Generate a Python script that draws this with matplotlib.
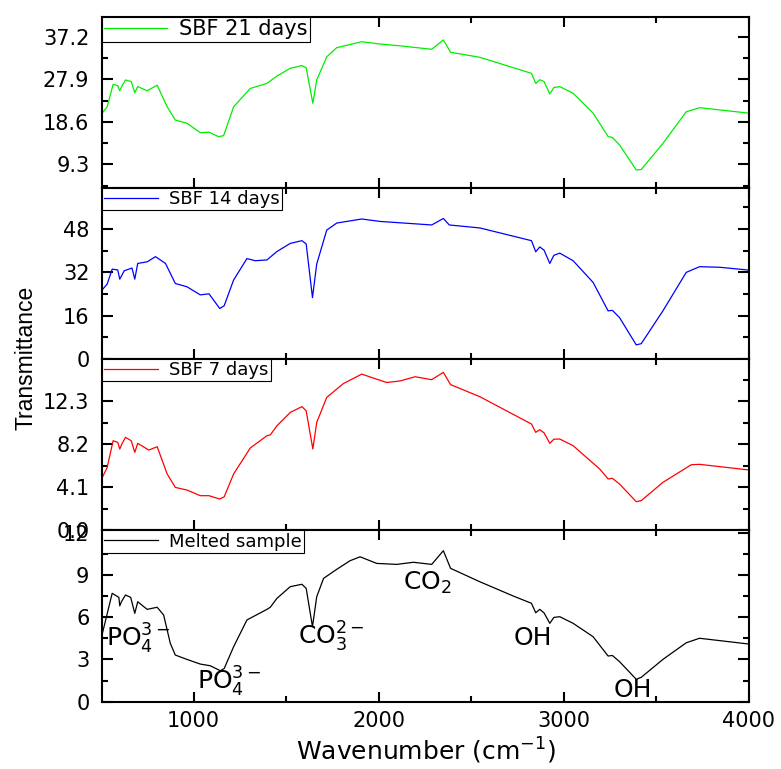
import numpy as np
import matplotlib as mpl
mpl.use('Agg')
import matplotlib.pyplot as plt
from matplotlib.ticker import MultipleLocator, FormatStrFormatter

mpl.rcParams['font.family'] = ['DejaVu Sans']
mpl.rcParams['xtick.labelsize'] = 15
mpl.rcParams['ytick.labelsize'] = 15
mpl.rcParams['axes.linewidth'] = 1.5
mpl.rcParams['lines.linewidth'] = 0.9

#==============================================================================
# FTIR spectra (wavenumber in cm-1, transmittance)
wn_21 = [505, 533, 565, 590, 601, 614, 632, 663, 682, 698, 749, 803, 857, 901,
         964, 1036, 1083, 1135, 1162, 1216, 1306, 1396, 1450, 1522, 1585, 1608,
         1644, 1665, 1719, 1773, 1908, 2007, 2115, 2286, 2349, 2388, 2546, 2825,
         2848, 2870, 2893, 2924, 2946, 2978, 3050, 3158, 3239, 3262, 3301, 3391,
         3418, 3535, 3661, 3733, 4000]
t_21 = [20.47, 21.9, 26.8, 26.5, 25.4, 26.5, 27.75, 27.4, 24.97, 26.3, 25.4,
        26.6, 21.9, 19.0, 18.3, 16.24, 16.35, 15.37, 15.6, 21.9, 25.9, 27.0,
        28.6, 30.3, 30.9, 30.4, 22.66, 27.75, 32.8, 34.8, 36.1, 35.6, 35.2,
        34.45, 36.5, 33.8, 32.7, 29.2, 27.0, 27.8, 27.4, 24.7, 26.1, 26.3,
        24.85, 20.5, 15.4, 15.2, 13.56, 8.1, 8.2, 13.9, 20.8, 21.7, 20.5]

wn_14 = [505, 533, 560, 590, 601, 625, 667, 682, 698, 749, 794, 848, 901, 964,
         1036, 1083, 1141, 1165, 1216, 1288, 1333, 1396, 1450, 1522, 1585, 1608,
         1642, 1665, 1719, 1773, 1908, 2007, 2115, 2286, 2349, 2381, 2546, 2825,
         2848, 2870, 2893, 2924, 2946, 2978, 3050, 3158, 3239, 3262, 3301, 3391,
         3418, 3535, 3661, 3733, 3840, 4000]
t_14 = [25.46, 27.7, 33.2, 32.9, 29.5, 32.6, 33.6, 29.5, 35.3, 35.9, 37.8, 35.3,
        27.9, 26.7, 23.7, 24.1, 18.67, 19.7, 29.2, 37.1, 36.3, 36.6, 39.7, 42.7,
        43.7, 42.5, 22.7, 35.1, 47.6, 50.2, 51.7, 50.8, 50.3, 49.5, 51.9, 49.5,
        48.4, 43.7, 39.6, 41.4, 40.2, 35.3, 38.3, 39.1, 36.3, 28.3, 17.8, 18.0,
        15.3, 5.25, 5.7, 17.8, 32.0, 34.1, 33.9, 32.85]

wn_7 = [505, 533, 565, 590, 601, 614, 632, 663, 682, 698, 758, 803, 857, 901,
        964, 1036, 1083, 1141, 1165, 1216, 1306, 1396, 1414, 1450, 1522, 1585,
        1608, 1644, 1665, 1719, 1809, 1908, 2043, 2115, 2196, 2286, 2349, 2388,
        2546, 2825, 2848, 2870, 2893, 2924, 2946, 2978, 3050, 3122, 3194, 3239,
        3262, 3301, 3391, 3418, 3535, 3688, 3733, 4000]
t_7 = [4.99, 6.0, 8.55, 8.4, 7.76, 8.3, 8.87, 8.55, 7.44, 8.3, 7.66, 7.98, 5.38,
       4.1, 3.85, 3.31, 3.31, 2.99, 3.2, 5.38, 7.86, 9.03, 9.1, 9.98, 11.25,
       11.8, 11.4, 7.76, 10.3, 12.68, 14.0, 14.9, 14.1, 14.25, 14.65, 14.37,
       15.07, 13.9, 12.75, 10.14, 9.35, 9.6, 9.3, 8.3, 8.7, 8.71, 8.08, 6.96,
       5.85, 4.9, 4.97, 4.42, 2.74, 2.84, 4.58, 6.26, 6.3, 5.76]

wn_melt = [505, 560, 596, 601, 610, 632, 660, 682, 698, 749, 803, 838, 874, 901,
           964, 1036, 1090, 1144, 1165, 1216, 1288, 1396, 1414, 1450, 1522, 1585,
           1608, 1642, 1665, 1702, 1773, 1845, 1899, 1989, 2097, 2187, 2286, 2349,
           2388, 2546, 2726, 2825, 2848, 2870, 2893, 2924, 2946, 2978, 3050, 3158,
           3239, 3262, 3301, 3391, 3418, 3535, 3661, 3733, 4000]
t_melt = [4.73, 7.69, 7.4, 6.8, 7.1, 7.57, 7.4, 6.27, 7.09, 6.55, 6.7, 6.15,
          4.14, 3.31, 3.0, 2.67, 2.55, 2.2, 2.35, 3.9, 5.8, 6.55, 6.7, 7.33,
          8.16, 8.33, 8.04, 5.32, 7.45, 8.75, 9.39, 10.0, 10.28, 9.81, 9.74,
          9.89, 9.74, 10.71, 9.46, 8.51, 7.5, 6.98, 6.31, 6.55, 6.3, 5.56, 5.98,
          6.03, 5.56, 4.61, 3.24, 3.28, 2.84, 1.59, 1.73, 3.0, 4.18, 4.5, 4.09]

labels = ['SBF 21 days', 'SBF 14 days', 'SBF 7 days', 'Melted sample']
colors = ['#00ee00', '#0000ff', '#ff0000', 'black']
ylims = [(4.2, 41.6), (0, 63.2), (0, 16.33), (0, 12.15)]
ystep = [9.3, 16, 4.1, 3]
yfmt = ['%.1f', '%d', '%.1f', '%d']
legsize = [15, 13, 13, 13]

# band assignments on the melted sample: (text, wavenumber, transmittance)
bands = [(r'PO$_4^{3-}$', 529, 3.9),
         (r'PO$_4^{3-}$', 1020, 0.83),
         (r'CO$_3^{2-}$', 1565, 4.02),
         (r'CO$_2$', 2130, 7.92),
         ('OH', 2730, 4.02),
         ('OH', 3268, 0.33)]
#==============================================================================

spectra = [(wn_21, t_21), (wn_14, t_14), (wn_7, t_7), (wn_melt, t_melt)]

fig, axes = plt.subplots(4, 1, sharex=True, figsize=(7.81, 7.69), dpi=100)
fig.subplots_adjust(left=0.1306, right=0.959, bottom=0.0875, top=0.9785, hspace=0)

for i, ax in enumerate(axes):
    x, y = spectra[i]
    ax.plot(x, y, color=colors[i], label=labels[i])
    ax.set_xlim(505, 4000)
    ax.set_ylim(*ylims[i])
    ax.yaxis.set_major_locator(MultipleLocator(ystep[i]))
    ax.yaxis.set_minor_locator(MultipleLocator(ystep[i] / 2))
    ax.yaxis.set_major_formatter(FormatStrFormatter(yfmt[i]))
    ax.xaxis.set_major_locator(MultipleLocator(1000))
    ax.xaxis.set_minor_locator(MultipleLocator(500))
    ax.tick_params(which='both', direction='in', top=True, right=True, width=1.5)
    ax.tick_params(axis='x', which='major', length=7, pad=7)
    ax.tick_params(axis='x', which='minor', length=4)
    ax.tick_params(axis='y', which='major', length=8, pad=9)
    ax.tick_params(axis='y', which='minor', length=4)
    leg = ax.legend(loc='upper left', borderaxespad=0, fontsize=legsize[i],
                    handlelength=3, handletextpad=0.6, borderpad=0.12,
                    fancybox=False, framealpha=1, edgecolor='black')
    leg.get_frame().set_linewidth(0.8)

for txt, bx, by in bands:
    axes[3].text(bx, by, txt, fontsize=18, ha='left', va='baseline')

axes[3].set_xlabel(r'Wavenumber (cm$^{-1}$)', fontsize=18, labelpad=3)
fig.text(26 / 781, 1 - 358 / 769, 'Transmittance', rotation=90, va='center',
         ha='center', fontsize=16.5, family='Liberation Sans')

plt.savefig('out.png', dpi=100)
